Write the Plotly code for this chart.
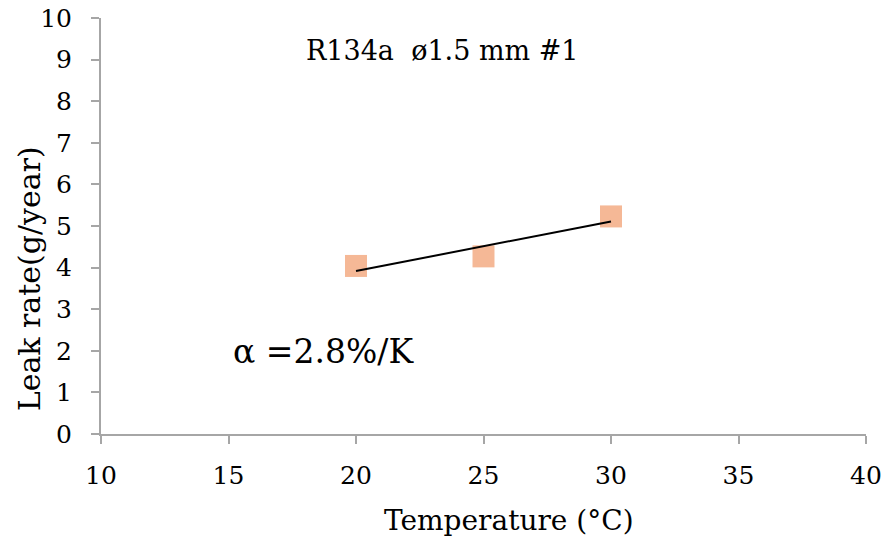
import numpy as np
import plotly.graph_objects as go

temperature = [20, 25, 30]
leak_rate = [4.04, 4.27, 5.23]
x_ticks = [10, 15, 20, 25, 30, 35, 40]
y_ticks = list(range(0, 11))
title_text = "R134a  ø1.5 mm #1"
alpha_text = "α =2.8%/K"
x_title = "Temperature (°C)"
y_title = "Leak rate(g/year)"

slope, intercept = np.polyfit(temperature, leak_rate, 1)
fit_x = [min(temperature), max(temperature)]
fit_y = [slope * v + intercept for v in fit_x]

FONT = "DejaVu Serif"
fig = go.Figure()
fig.add_trace(go.Scatter(x=temperature, y=leak_rate, mode="markers",
                         marker=dict(symbol="square", size=22, color="#F5B896",
                                     line=dict(width=0)),
                         showlegend=False))
fig.add_trace(go.Scatter(x=fit_x, y=fit_y, mode="lines",
                         line=dict(color="black", width=2), showlegend=False))

axis_common = dict(showgrid=False, zeroline=False, showline=True, linecolor="#A6A6A6",
                   linewidth=2, ticks="outside", tickcolor="#A6A6A6", ticklen=8, tickwidth=2,
                   automargin=False,
                   tickfont=dict(family=FONT, size=25, color="black"))
fig.update_xaxes(range=[10, 40], tickvals=x_ticks, ticklabelstandoff=10, **axis_common)
fig.update_yaxes(range=[0, 10], tickvals=y_ticks, ticklabelstandoff=14, **axis_common)

fig.add_annotation(x=23.4, y=9.23, xref="x", yref="y", text=title_text, showarrow=False,
                   font=dict(family=FONT, size=27, color="black"))
fig.add_annotation(x=15.1, y=1.99, xref="x", yref="y", text=alpha_text, showarrow=False,
                   xanchor="left", font=dict(family=FONT, size=33, color="black"))
fig.add_annotation(x=26.0, y=0, xref="x", yref="paper", text=x_title, showarrow=False,
                   yanchor="middle", yshift=-86, font=dict(family=FONT, size=28, color="black"))
fig.add_annotation(x=0, y=3.72, xref="paper", yref="y", text=y_title, showarrow=False,
                   textangle=-90, xanchor="center", xshift=-72,
                   font=dict(family=FONT, size=30, color="black"))

fig.update_layout(width=886, height=540, margin=dict(l=101, r=20, t=18, b=106),
                  plot_bgcolor="white", paper_bgcolor="white")
fig.write_html("out.html", config={"displayModeBar": False},
               post_script="document.body.style.margin='0px';")
